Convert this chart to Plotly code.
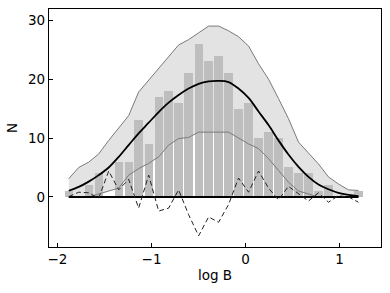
import plotly.graph_objects as go

# bin centres (log B)
log_b = [-1.880, -1.774, -1.668, -1.561, -1.455, -1.349, -1.243, -1.137, -1.030, -0.924,
         -0.818, -0.712, -0.606, -0.499, -0.393, -0.287, -0.181, -0.075, 0.032, 0.138,
         0.244, 0.350, 0.456, 0.563, 0.669, 0.775, 0.881, 0.987, 1.094, 1.200]

# histogram counts
counts = [1, 0, 2, 4, 0, 6, 6, 13, 9, 17,
          18, 16, 21, 26, 23, 24, 21, 15, 16, 10,
          11, 10, 5, 4, 4, 1, 2, 0, 0, 1]

# model mean curve
model = [1.05, 1.7, 2.6, 3.7, 5.0, 6.8, 8.8, 10.8, 12.6, 14.4,
         16.0, 17.3, 18.4, 19.2, 19.6, 19.7, 19.5, 18.4, 16.8, 14.5,
         12.2, 9.6, 7.2, 5.1, 3.4, 2.1, 1.3, 0.7, 0.35, 0.15]

# envelope
upper = [3.1, 5.0, 5.9, 7.3, 9.6, 11.8, 13.8, 17.8, 19.8, 21.8,
         23.8, 25.8, 26.7, 27.8, 29.0, 29.0, 28.2, 27.2, 25.6, 22.6,
         20.0, 16.7, 13.3, 9.3, 7.4, 5.6, 3.4, 2.2, 1.2, 1.1]
lower = [0.0, 0.0, 0.0, 0.5, 1.0, 1.5, 3.7, 4.8, 5.7, 6.8,
         8.8, 9.9, 10.1, 11.0, 11.0, 11.0, 11.0, 10.0, 9.0, 8.2,
         6.5, 4.5, 2.5, 1.0, 0.5, 0.0, 0.0, 0.0, 0.0, 0.0]

# residual (dashed)
resid = [0.05, 0.8, 0.7, -0.2, 4.4, 1.2, 3.0, -1.9, 3.7, -2.4,
         -1.9, 1.2, -3.0, -6.6, -3.4, -4.3, -1.3, 3.2, 0.8, 4.4,
         1.5, -0.5, 1.8, 0.6, -0.7, 0.7, -0.9, 0.2, 0.0, -0.9]

zero_line = [0] * len(log_b)

X_RANGE = [-2.09, 1.44]
Y_RANGE = [-8.5, 31.9]

fig = go.Figure()

# band fill (bottom layer, primary axes)
fig.add_trace(go.Scatter(x=log_b, y=lower, mode="lines",
                         line=dict(color="rgba(0,0,0,0)", width=0), showlegend=False))
fig.add_trace(go.Scatter(x=log_b, y=upper, mode="lines", fill="tonexty",
                         fillcolor="rgb(227,227,227)",
                         line=dict(color="rgba(0,0,0,0)", width=0), showlegend=False))

# everything else on an overlaying pair of axes (drawn above the band)
fig.add_trace(go.Bar(x=log_b, y=counts, width=0.088, xaxis="x2", yaxis="y2",
                     marker=dict(color="rgb(190,190,190)", line=dict(width=0)),
                     showlegend=False))
fig.add_trace(go.Scatter(x=log_b, y=lower, mode="lines", xaxis="x2", yaxis="y2",
                         line=dict(color="#7a7a7a", width=1), showlegend=False))
fig.add_trace(go.Scatter(x=log_b, y=upper, mode="lines", xaxis="x2", yaxis="y2",
                         line=dict(color="#7a7a7a", width=1), showlegend=False))
fig.add_trace(go.Scatter(x=log_b, y=zero_line, mode="lines", xaxis="x2", yaxis="y2",
                         line=dict(color="black", width=2), showlegend=False))
fig.add_trace(go.Scatter(x=log_b, y=model, mode="lines", xaxis="x2", yaxis="y2",
                         line=dict(color="black", width=1.8, shape="spline"),
                         showlegend=False))
fig.add_trace(go.Scatter(x=log_b, y=resid, mode="lines", xaxis="x2", yaxis="y2",
                         line=dict(color="#222222", width=1, dash="5px,3px"),
                         showlegend=False))

font = dict(family="DejaVu Sans", size=13.5, color="black")

fig.update_layout(
    width=390, height=293,
    margin=dict(l=49, r=9, t=9, b=46),
    paper_bgcolor="white", plot_bgcolor="white",
    font=font, bargap=0,
    xaxis=dict(range=X_RANGE, tickvals=[-2, -1, 0, 1], automargin=False,
               showline=True, linecolor="black", linewidth=1.3, mirror=True,
               ticks="inside", ticklen=4, tickwidth=1, tickcolor="black",
               showgrid=False, zeroline=False,
               title=dict(text="log B", font=font, standoff=4)),
    yaxis=dict(range=Y_RANGE, tickvals=[0, 10, 20, 30], automargin=False,
               showline=True, linecolor="black", linewidth=1.3, mirror=True,
               ticks="inside", ticklen=4, tickwidth=1, tickcolor="black",
               showgrid=False, zeroline=False,
               title=dict(text="N", font=font, standoff=7)),
    xaxis2=dict(range=X_RANGE, overlaying="x", visible=False, automargin=False),
    yaxis2=dict(range=Y_RANGE, overlaying="y", visible=False, automargin=False),
)

fig.write_html("out.html", config={"displayModeBar": False},
               post_script="document.body.style.margin='0';document.body.style.padding='0';")
